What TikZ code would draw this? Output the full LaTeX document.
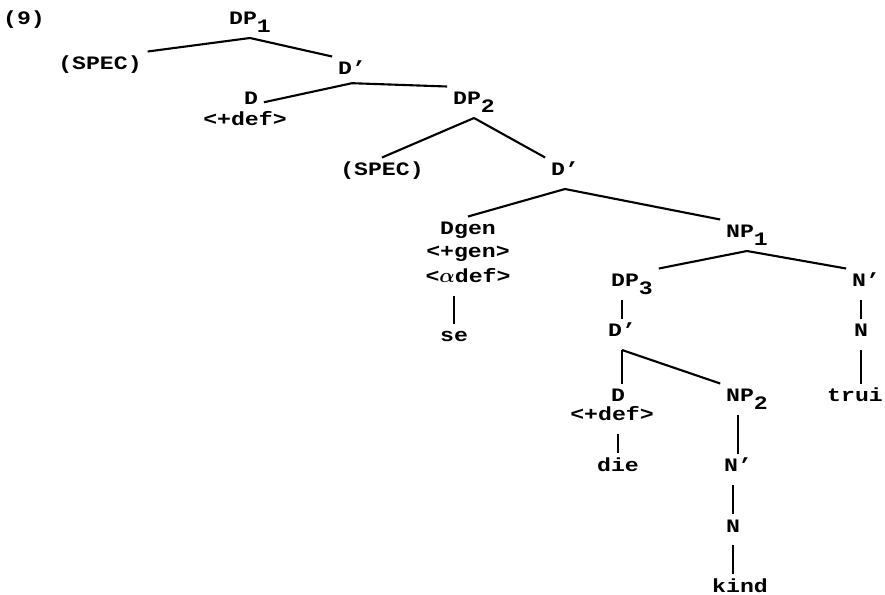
\documentclass[tikz,border=0pt]{standalone}
\usepackage{amsmath}
\usepackage{fontspec}
\setmainfont[FakeStretch=1.22]{Liberation Mono}
\newcommand{\subnum}[1]{\raisebox{-0.37em}{#1}}
\begin{document}
\begin{tikzpicture}[x=0.25mm,y=-0.25mm,line width=1.5pt,
	every node/.style={anchor=base,font=\fontsize{13.5}{16}\selectfont\bfseries,text height=8.9pt,text depth=5pt,inner sep=3.5pt}]
	\useasboundingbox (0,0) rectangle (885,595);
	\node (ex) at (24,25) {(9)};

	\node (DP1) at (250,25) {DP\subnum{1}};
	\node (spec1) at (100,70) {(SPEC)};
	\node (Dp1) at (352,75) {D’};
	\node (D1) at (251,105) {D};
	\node (D1f) at (245,126) {<+def>};
	\node (DP2) at (474,105) {DP\subnum{2}};
	\node (spec2) at (382,176) {(SPEC)};
	\node (Dp2) at (565,176) {D’};

	\node (Dgen) at (468,235) {Dgen};
	\node (Dgenf1) at (468,258) {<+gen>};
	\node (Dgenf2) at (468,283) {<$\boldsymbol{\alpha}$def>};
	\node (se) at (454,342) {se};

	\node (NP1) at (747,238) {NP\subnum{1}};
	\node (DP3) at (632,287) {DP\subnum{3}};
	\node (Np1) at (866,287) {N’};
	\node (Dp3) at (622,337) {D’};
	\node (N1) at (861,337) {N};
	\node (trui) at (855,402) {trui};

	\node (D3) at (618,402) {D};
	\node (D3f) at (612,421) {<+def>};
	\node (die) at (618,471) {die};
	\node (NP2) at (747,402) {NP\subnum{2}};
	\node (Np2) at (738,472) {N’};
	\node (N2) at (733,532) {N};
	\node (kind) at (740,592) {kind};

	\draw (DP1.south) -- (spec1.north east);
	\draw (DP1.south) -- (Dp1.north west);
	\draw ([yshift=1.2mm]Dp1.south) -- (D1.east);
	\draw ([yshift=1.2mm]Dp1.south) -- (DP2.north west);
	\draw (DP2.south) -- (spec2.north);
	\draw (DP2.south) -- (Dp2.north west);
	\draw (Dp2.south) -- (Dgen.north);
	\draw (Dp2.south) -- (NP1.north west);
	\draw (se.north |- Dgenf2.south) -- (se.north);

	\draw (NP1.south) -- (DP3.north east);
	\draw (NP1.south) -- (Np1.north west);
	\draw (Dp3.north |- DP3.south) -- (Dp3.north);
	\draw (N1.north |- Np1.south) -- (N1.north);
	\draw (N1.south) -- (N1.south |- trui.north);

	\draw (Dp3.south) -- (Dp3.south |- D3.north);
	\draw (Dp3.south) -- (NP2.north west);
	\draw (die.north |- D3f.south) -- (die.north);
	\draw (Np2.north |- NP2.south) -- (Np2.north);
	\draw (N2.north |- Np2.south) -- (N2.north);
	\draw (N2.south) -- (N2.south |- kind.north);
\end{tikzpicture}
\end{document}
